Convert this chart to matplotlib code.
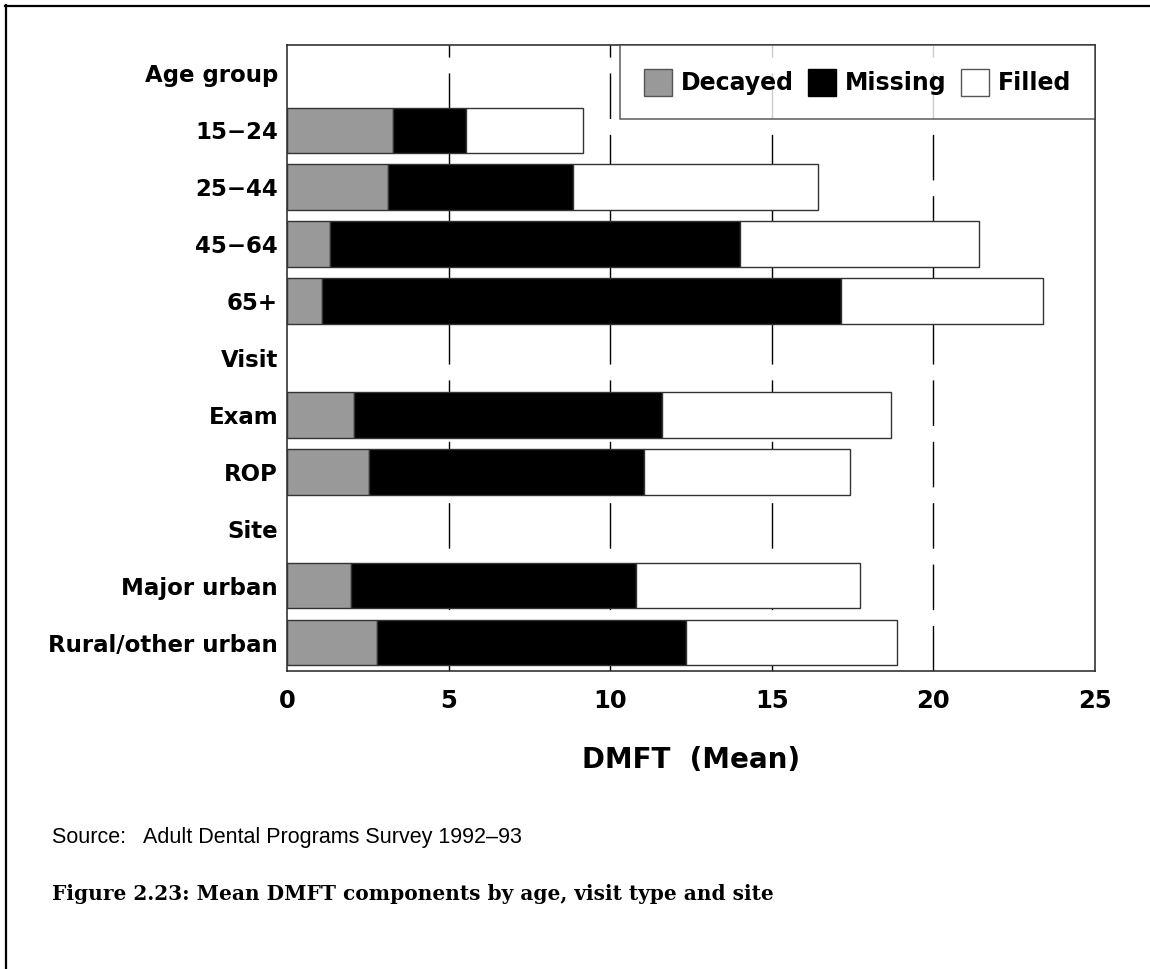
import matplotlib.pyplot as plt
from matplotlib.lines import Line2D
from matplotlib.patches import Patch

# row labels (top to bottom), header rows have no bars
row_labels = ["Age group", "15−24", "25−44", "45−64", "65+",
              "Visit", "Exam", "ROP",
              "Site", "Major urban", "Rural/other urban"]

bar_labels = ["15−24", "25−44", "45−64", "65+", "Exam", "ROP",
              "Major urban", "Rural/other urban"]

# mean DMFT components
decayed = [3.27, 3.11, 1.33, 1.08, 2.08, 2.55, 1.98, 2.78]
missing = [2.26, 5.75, 12.70, 16.05, 9.51, 8.51, 8.82, 9.56]
filled = [3.62, 7.57, 7.39, 6.25, 7.09, 6.35, 6.93, 6.54]

x_ticks = [0, 5, 10, 15, 20, 25]

fig = plt.figure(figsize=(11.5, 9.69), dpi=100)
ax = fig.add_axes([0.2496, 0.3075, 0.7026, 0.6461])

ypos = [row_labels.index(lab) for lab in bar_labels]
left_m = decayed
left_f = [d + m for d, m in zip(decayed, missing)]

edge = "#333333"
ax.barh(ypos, decayed, height=0.8, color="#999999", edgecolor=edge, linewidth=1, zorder=3)
ax.barh(ypos, missing, left=left_m, height=0.8, color="black", edgecolor=edge, linewidth=1, zorder=3)
ax.barh(ypos, filled, left=left_f, height=0.8, color="white", edgecolor=edge, linewidth=1, zorder=3)

# dashed vertical gridlines
for xv in x_ticks[1:-1]:
    ax.axvline(xv, color="black", linewidth=1, dashes=(32.8, 11.4), zorder=1)

ax.set_xlim(0, 25)
ax.set_ylim(len(row_labels) - 0.5, -0.5)
ax.set_yticks(range(len(row_labels)))
ax.set_yticklabels(row_labels, fontsize=16.5, fontweight="bold", family="DejaVu Sans")
ax.set_xticks(x_ticks)
ax.set_xticklabels([str(t) for t in x_ticks], fontsize=17.5, fontweight="bold", family="DejaVu Sans")
ax.tick_params(axis="x", length=0, pad=13)
ax.tick_params(axis="y", length=0, pad=6.5)
for sp in ax.spines.values():
    sp.set_color("#222222")
    sp.set_linewidth(1.1)

ax.set_xlabel("DMFT  (Mean)", fontsize=20, fontweight="bold", family="DejaVu Sans", labelpad=24)

handles = [Patch(facecolor="#999999", edgecolor="#555555", label="Decayed"),
           Patch(facecolor="black", edgecolor="black", label="Missing"),
           Patch(facecolor="white", edgecolor="#555555", label="Filled")]
leg = ax.legend(handles=handles, loc="upper right", ncol=3, fancybox=False,
                borderaxespad=0, frameon=True, handlelength=1.19, handleheight=1.4,
                handletextpad=0.38, columnspacing=0.6, borderpad=1.0,
                prop={"family": "DejaVu Sans", "weight": "bold", "size": 17})
leg.get_frame().set_edgecolor("#333333")
leg.get_frame().set_linewidth(1.1)
leg.set_zorder(5)

fig.text(52 / 1150, 1 - 838 / 969, "Source:   Adult Dental Programs Survey 1992–93",
         fontsize=15.5, family="Liberation Sans", va="center", ha="left")
fig.text(52 / 1150, 1 - 894 / 969, "Figure 2.23: Mean DMFT components by age, visit type and site",
         fontsize=14.5, family="DejaVu Serif", fontweight="bold", va="center", ha="left")

# partial page frame (top and left edges)
fig.add_artist(Line2D([5 / 1150, 1.0], [1 - 5.5 / 969, 1 - 5.5 / 969],
                      transform=fig.transFigure, color="black", linewidth=1.6))
fig.add_artist(Line2D([5.5 / 1150, 5.5 / 1150], [0.0, 1 - 5 / 969],
                      transform=fig.transFigure, color="black", linewidth=1.6))

fig.savefig("out.png", dpi=100, facecolor="white")
